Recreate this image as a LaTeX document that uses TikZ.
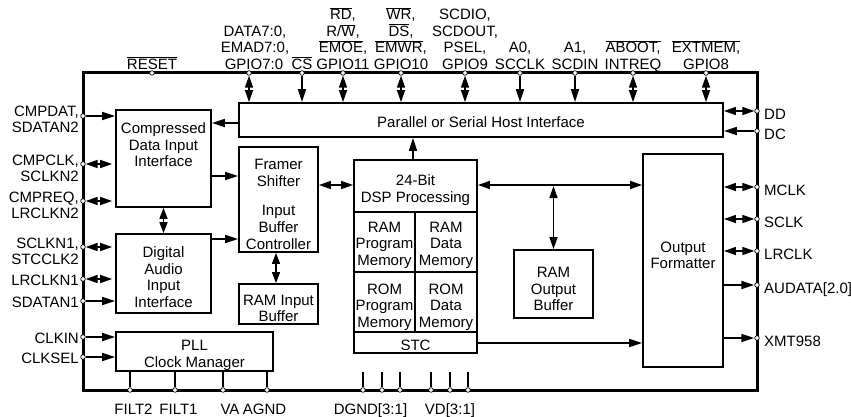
\documentclass[tikz,border=0pt]{standalone}
\usepackage{fontspec}
\setmainfont{Liberation Sans}
\usetikzlibrary{arrows.meta}
\newcommand{\ovl}[1]{$\overline{\hbox{#1}}$}
\begin{document}
\begin{tikzpicture}[x=1pt,y=-1pt,
  every node/.style={font=\fontsize{15}{16.5}\selectfont},
  txt/.style={inner sep=0pt, align=center},
  lab/.style={inner sep=0pt},
  chip/.style={line width=3pt},
  blk/.style={draw, line width=1.8pt, inner sep=0pt},
  pinc/.style={circle, draw, fill=white, line width=0.7pt, minimum size=4.6pt, inner sep=0pt},
  ln/.style={line width=1.6pt},
  ar/.style={line width=1.6pt, -{Triangle[length=13pt,width=8pt]}},
  dbl/.style={line width=1.6pt, {Triangle[length=12pt,width=8pt]}-{Triangle[length=12pt,width=8pt]}},
  sdbl/.style={line width=1.6pt, {Triangle[length=11pt,width=8pt]}-{Triangle[length=11pt,width=8pt]}}]
\useasboundingbox (0,0) rectangle (851,417);

% chip outline
\draw[chip] (83,73) rectangle (757,390);

% ---------- blocks ----------
\node[blk, minimum width=484pt, minimum height=34pt] (host) at (481,120) {};
\node[txt] (hostT) at (481,122.5) {Parallel or Serial Host Interface};

\node[blk, minimum width=95pt, minimum height=97pt] (comp) at (163.5,158.5) {};
\node[txt] (compT) at (163.5,145) {Compressed\\Data Input\\Interface};

\node[blk, minimum width=95pt, minimum height=79pt] (dig) at (163.5,273.5) {};
\node[txt] (digT) at (163.5,277) {Digital\\Audio\\Input\\Interface};

\node[blk, minimum width=157pt, minimum height=39pt] (pll) at (194.5,351.5) {};
\node[txt] (pllT) at (194.5,355.5) {PLL\\Clock Manager};

\node[blk, minimum width=79pt, minimum height=105pt] (framer) at (278.5,199.5) {};
\node[txt, font=\fontsize{15}{17}\selectfont] (framerT) at (278.5,204) {Framer\\Shifter\\[12pt]Input\\Buffer\\Controller};

\node[blk, minimum width=79pt, minimum height=40pt] (ramin) at (278.5,304) {};
\node[txt] (raminT) at (278.5,308.5) {RAM Input\\Buffer};

\node[blk, minimum width=123pt, minimum height=52pt] (dsp) at (415.5,186) {};
\node[txt] (dspT) at (415.5,190) {24-Bit\\DSP Processing};

\node[blk, minimum width=61pt, minimum height=60pt] (rampm) at (384.5,242) {};
\node[txt] (rampmT) at (384.5,245) {RAM\\Program\\Memory};
\node[blk, minimum width=62pt, minimum height=60pt] (ramdm) at (446,242) {};
\node[txt] (ramdmT) at (446,245) {RAM\\Data\\Memory};
\node[blk, minimum width=61pt, minimum height=60pt] (rompm) at (384.5,302) {};
\node[txt] (rompmT) at (384.5,307) {ROM\\Program\\Memory};
\node[blk, minimum width=62pt, minimum height=60pt] (romdm) at (446,302) {};
\node[txt] (romdmT) at (446,307) {ROM\\Data\\Memory};

\node[blk, minimum width=123pt, minimum height=21pt] (stc) at (415.5,342.5) {};
\node[txt] (stcT) at (415.5,345) {STC};

\node[blk, minimum width=79pt, minimum height=68pt] (ramout) at (553.5,284) {};
\node[txt] (ramoutT) at (553.5,289) {RAM\\Output\\Buffer};

\node[blk, minimum width=80pt, minimum height=213pt] (outfmt) at (683,260.5) {};
\node[txt] (outfmtT) at (683,255.5) {Output\\Formatter};

% ---------- top pins ----------
\node[pinc] (pRESET) at (152,73) {};
\node[pinc] (pDATA) at (249,73) {};
\node[pinc] (pCS) at (302,73) {};
\node[pinc] (pG11) at (343,73) {};
\node[pinc] (pG10) at (401,73) {};
\node[pinc] (pG9) at (465,73) {};
\node[pinc] (pA0) at (520,73) {};
\node[pinc] (pA1) at (575,73) {};
\node[pinc] (pABOOT) at (633,73) {};
\node[pinc] (pEXT) at (706,73) {};

\draw[dbl] (pDATA) -- (pDATA |- host.north);
\draw[ar]  (pCS) -- (pCS |- host.north);
\draw[dbl] (pG11) -- (pG11 |- host.north);
\draw[dbl] (pG10) -- (pG10 |- host.north);
\draw[dbl] (pG9) -- (pG9 |- host.north);
\draw[ar]  (pA0) -- (pA0 |- host.north);
\draw[ar]  (pA1) -- (pA1 |- host.north);
\draw[dbl] (pABOOT) -- (pABOOT |- host.north);
\draw[dbl] (pEXT) -- (pEXT |- host.north);

% top labels
\node[lab, anchor=base] (lRESET) at (152,69.5) {\ovl{RESET}};
\node[lab, anchor=base] (lDATAa) at (255,36.5) {DATA7:0,};
\node[lab, anchor=base] (lDATAb) at (255,53) {EMAD7:0,};
\node[lab, anchor=base] (lDATAc) at (254,69.5) {GPIO7:0};
\node[lab, anchor=base] (lCS) at (302,69.5) {\ovl{CS}};
\node[lab, anchor=base] (lG11a) at (343,20) {\ovl{RD},};
\node[lab, anchor=base] (lG11b) at (343,36.5) {R/\ovl{W},};
\node[lab, anchor=base] (lG11c) at (343,53) {\ovl{EMOE},};
\node[lab, anchor=base] (lG11d) at (343,69.5) {GPIO11};
\node[lab, anchor=base] (lG10a) at (401,20) {\ovl{WR},};
\node[lab, anchor=base] (lG10b) at (401,36.5) {\ovl{DS},};
\node[lab, anchor=base] (lG10c) at (401,53) {\ovl{EMWR},};
\node[lab, anchor=base] (lG10d) at (401,69.5) {GPIO10};
\node[lab, anchor=base] (lG9a) at (465,20) {SCDIO,};
\node[lab, anchor=base] (lG9b) at (465,36.5) {SCDOUT,};
\node[lab, anchor=base] (lG9c) at (465,53) {PSEL,};
\node[lab, anchor=base] (lG9d) at (465,69.5) {GPIO9};
\node[lab, anchor=base] (lA0a) at (520,53) {A0,};
\node[lab, anchor=base] (lA0b) at (520,69.5) {SCCLK};
\node[lab, anchor=base] (lA1a) at (575,53) {A1,};
\node[lab, anchor=base] (lA1b) at (575,69.5) {SCDIN};
\node[lab, anchor=base] (lABa) at (633,53) {\ovl{ABOOT,}};
\node[lab, anchor=base] (lABb) at (633,69.5) {INTREQ};
\node[lab, anchor=base] (lEXa) at (706,53) {\ovl{EXTMEM,}};
\node[lab, anchor=base] (lEXb) at (706,69.5) {GPIO8};

% ---------- left pins ----------
\node[pinc] (pCMPDAT) at (83,116) {};
\node[pinc] (pCMPCLK) at (83,164) {};
\node[pinc] (pCMPREQ) at (83,201) {};
\node[pinc] (pSCLKN1) at (83,247) {};
\node[pinc] (pLRCLKN1) at (83,279) {};
\node[pinc] (pSDATAN1) at (83,301) {};
\node[pinc] (pCLKIN) at (83,337) {};
\node[pinc] (pCLKSEL) at (83,357) {};

\draw[ar]  (pCMPDAT) -- (pCMPDAT -| comp.west);
\draw[dbl, shorten >=3pt] (pCMPCLK) -- (pCMPCLK -| comp.west);
\draw[dbl, shorten >=3pt] (pCMPREQ) -- (pCMPREQ -| comp.west);
\draw[dbl, shorten >=3pt] (pSCLKN1) -- (pSCLKN1 -| dig.west);
\draw[dbl, shorten >=3pt] (pLRCLKN1) -- (pLRCLKN1 -| dig.west);
\draw[ar]  (pSDATAN1) -- (pSDATAN1 -| dig.west);
\draw[ar]  (pCLKIN) -- (pCLKIN -| pll.west);
\draw[ar]  (pCLKSEL) -- (pCLKSEL -| pll.west);

\node[lab, anchor=base east] (lCMPDATa) at (79,117) {CMPDAT,};
\node[lab, anchor=base east] (lCMPDATb) at (79,133) {SDATAN2};
\node[lab, anchor=base east] (lCMPCLKa) at (79,165) {CMPCLK,};
\node[lab, anchor=base east] (lCMPCLKb) at (79,181) {SCLKN2};
\node[lab, anchor=base east] (lCMPREQa) at (79,202) {CMPREQ,};
\node[lab, anchor=base east] (lCMPREQb) at (79,218) {LRCLKN2};
\node[lab, anchor=base east] (lSCLKN1a) at (79,248) {SCLKN1,};
\node[lab, anchor=base east] (lSCLKN1b) at (79,264) {STCCLK2};
\node[lab, anchor=base east] (lLRCLKN1) at (79,285) {LRCLKN1};
\node[lab, anchor=base east] (lSDATAN1) at (79,307) {SDATAN1};
\node[lab, anchor=base east] (lCLKIN) at (79,343) {CLKIN};
\node[lab, anchor=base east] (lCLKSEL) at (79,363) {CLKSEL};

% ---------- right pins ----------
\node[pinc] (pDD) at (757,111) {};
\node[pinc] (pDC) at (757,131) {};
\node[pinc] (pMCLK) at (757,187) {};
\node[pinc] (pSCLK) at (757,219) {};
\node[pinc] (pLRCLK) at (757,251) {};
\node[pinc] (pAUDATA) at (757,285) {};
\node[pinc] (pXMT) at (757,338) {};

\draw[dbl] (host.east |- pDD) -- (pDD);
\draw[ar]  (pDC) -- (host.east |- pDC);
\draw[dbl] (outfmt.east |- pMCLK) -- (pMCLK);
\draw[dbl] (outfmt.east |- pSCLK) -- (pSCLK);
\draw[dbl] (outfmt.east |- pLRCLK) -- (pLRCLK);
\draw[ar]  (outfmt.east |- pAUDATA) -- (pAUDATA);
\draw[ar]  (outfmt.east |- pXMT) -- (pXMT);

\node[lab, anchor=base west] (lDD) at (764,119.5) {DD};
\node[lab, anchor=base west] (lDC) at (764,139.5) {DC};
\node[lab, anchor=base west] (lMCLK) at (764,195.5) {MCLK};
\node[lab, anchor=base west] (lSCLK) at (764,227.5) {SCLK};
\node[lab, anchor=base west] (lLRCLK) at (764,259.5) {LRCLK};
\node[lab, anchor=base west] (lAUDATA) at (764,293.5) {AUDATA[2.0]};
\node[lab, anchor=base west] (lXMT) at (764,346.5) {XMT958};

% ---------- bottom pins ----------
\node[pinc] (pFILT2) at (130,390) {};
\node[pinc] (pFILT1) at (175,390) {};
\node[pinc] (pVA) at (223,390) {};
\node[pinc] (pAGND) at (267,390) {};
\node[pinc] (pDG3) at (363,390) {};
\node[pinc] (pDG2) at (382,390) {};
\node[pinc] (pDG1) at (400,390) {};
\node[pinc] (pVD3) at (431,390) {};
\node[pinc] (pVD2) at (450,390) {};
\node[pinc] (pVD1) at (468,390) {};

\draw[ln] (pFILT2) -- (pFILT2 |- pll.south);
\draw[ln] (pFILT1) -- (pFILT1 |- pll.south);
\draw[ln] (pVA) -- (pVA |- pll.south);
\draw[ln] (pAGND) -- (pAGND |- pll.south);
\coordinate (cDG3) at (363,372);
\coordinate (cDG2) at (382,372);
\coordinate (cDG1) at (400,372);
\coordinate (cVD3) at (431,372);
\coordinate (cVD2) at (450,372);
\coordinate (cVD1) at (468,372);
\draw[ln] (pDG3) -- (cDG3);
\draw[ln] (pDG2) -- (cDG2);
\draw[ln] (pDG1) -- (cDG1);
\draw[ln] (pVD3) -- (cVD3);
\draw[ln] (pVD2) -- (cVD2);
\draw[ln] (pVD1) -- (cVD1);

\node[lab, anchor=base] (lFILT2) at (133.5,414) {FILT2};
\node[lab, anchor=base] (lFILT1) at (178.5,414) {FILT1};
\node[lab, anchor=base] (lVA) at (230,414) {VA};
\node[lab, anchor=base] (lAGND) at (264.5,414) {AGND};
\node[lab, anchor=base] (lDGND) at (370.5,414) {DGND[3:1]};
\node[lab, anchor=base] (lVD) at (450,414) {VD[3:1]};

% ---------- internal connections ----------
\draw[ar]  (host.west |- 0,123) -- (comp.east |- 0,123);
\draw[ar]  (comp.east |- 0,176) -- (framer.west |- 0,176);
\draw[ar]  (dig.east |- 0,239) -- (framer.west |- 0,239);
\draw[sdbl] (comp.south) -- (dig.north);
\draw[sdbl] (framer.south -| 276,0) -- (ramin.north -| 276,0);
\draw[dbl] (framer.east |- 0,185) -- (dsp.west |- 0,185);
\draw[ar]  (dsp.north -| 413,0) -- (host.south -| 413,0);
\draw[dbl] (dsp.east |- 0,185) -- (outfmt.west |- 0,185);
\coordinate (junc) at (553.5,186);
\draw[dbl] (junc) -- (ramout.north);
\draw[ar]  (stc.east |- 0,343) -- (outfmt.west |- 0,343);
\end{tikzpicture}
\end{document}
